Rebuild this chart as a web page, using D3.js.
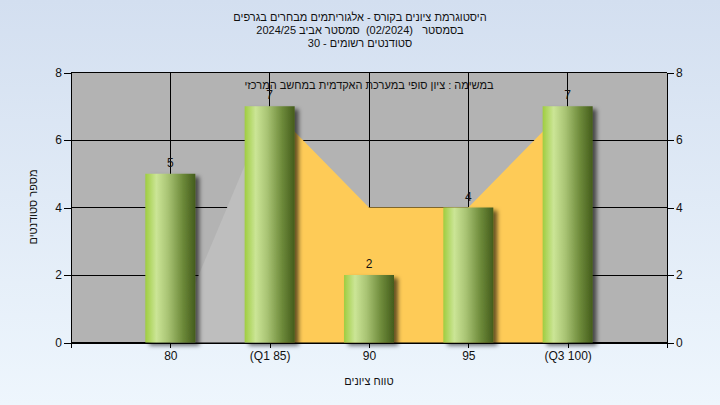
<!DOCTYPE html>
<html><head><meta charset="utf-8">
<script src="https://cdn.jsdelivr.net/npm/d3@7"></script>
<style>
html,body{margin:0;padding:0;}
svg{display:block;font-family:"Liberation Sans",Arial,sans-serif;}
.pre{white-space:pre;}
</style></head>
<body>
<svg id="chart" width="720" height="405"></svg>
<script>
const categories = ["80", "(Q1 85)", "90", "95", "(Q3 100)"];
const barValues = [5, 7, 2, 4, 7];
const areaValues = [0, 7, 4, 4, 7];
const highlightIdx = [1, 2, 3, 4];
const yTicks = [0, 2, 4, 6, 8];
const titleLines = [
  "היסטוגרמת ציונים בקורס - אלגוריתמים מבחרים בגרפים",
  "בסמסטר   (02/2024)  סמסטר אביב 2024/25",
  "סטודנטים רשומים - 30"
];
const subTitle = "במשימה : ציון סופי במערכת האקדמית במחשב המרכזי";
const yLabel = "מספר סטודנטים";
const xLabel = "טווח ציונים";

const svg = d3.select("#chart");
const W = 720, H = 405;
const m = {left: 71, right: 667, top: 72.5, bottom: 342.5};
const hebFont = "11px";

const defs = svg.append("defs");
const bg = defs.append("linearGradient").attr("id","bg").attr("x1",0).attr("y1",0).attr("x2",0).attr("y2",1);
bg.append("stop").attr("offset","0%").attr("stop-color","#d3dff0");
bg.append("stop").attr("offset","100%").attr("stop-color","#eef6fd");
const bar = defs.append("linearGradient").attr("id","bar").attr("x1",0).attr("y1",0).attr("x2",1).attr("y2",0);
[["0%","#9fcd40"],["22%","#cbe596"],["45%","#a9c474"],["75%","#6d8a3a"],["100%","#445c1c"]]
  .forEach(([o,c])=>bar.append("stop").attr("offset",o).attr("stop-color",c));
const f = defs.append("filter").attr("id","sh").attr("x","-20%").attr("y","-20%").attr("width","150%").attr("height","150%");
f.append("feDropShadow").attr("dx",4).attr("dy",3).attr("stdDeviation",2).attr("flood-color","#000").attr("flood-opacity",0.6);

svg.append("rect").attr("width",W).attr("height",H).attr("fill","url(#bg)");

const x = d3.scaleLinear().domain([-1, 5]).range([m.left, m.right]);
const y = d3.scaleLinear().domain([0, 8]).range([m.bottom, m.top]);

svg.append("rect").attr("x",m.left).attr("y",m.top).attr("width",m.right-m.left).attr("height",m.bottom-m.top).attr("fill","#b3b3b3");

const grid = svg.append("g").attr("stroke","#000").attr("stroke-width",1).attr("shape-rendering","crispEdges");
yTicks.forEach(t=>grid.append("line").attr("x1",m.left).attr("x2",m.right).attr("y1",y(t)).attr("y2",y(t)));
categories.forEach((c,i)=>grid.append("line").attr("x1",x(i)).attr("x2",x(i)).attr("y1",m.top).attr("y2",m.bottom));

const area = d3.area().x(d=>x(d.i)).y0(y(0)).y1(d=>y(d.v));
const allPts = areaValues.map((v,i)=>({i,v}));
svg.append("path").attr("d",area(allPts.slice(0,2))).attr("fill","#bebebe");
svg.append("path").attr("d",area(highlightIdx.map(i=>({i,v:areaValues[i]})))).attr("fill","#fecb57");

svg.append("line").attr("x1",m.left).attr("x2",m.right).attr("y1",m.top).attr("y2",m.top).attr("stroke","#000").attr("shape-rendering","crispEdges");

const bw = 50;
svg.append("g").selectAll("rect").data(barValues).join("rect")
  .attr("x",(d,i)=>x(i)-bw/2).attr("y",d=>y(d)).attr("width",bw).attr("height",d=>y(0)-y(d))
  .attr("fill","url(#bar)").attr("filter","url(#sh)");

const yAxisL = d3.axisLeft(y).tickValues(yTicks).tickSize(7).tickPadding(2).tickFormat(d3.format("d"));
const yAxisR = d3.axisRight(y).tickValues(yTicks).tickSize(7).tickPadding(2).tickFormat(d3.format("d"));
const xAxis = d3.axisBottom(x).tickValues([-1,0,1,2,3,4,5]).tickSize(5).tickPadding(4).tickFormat(d=>categories[d]||"");
function style(g){
  g.select(".domain").attr("stroke","#000");
  g.selectAll(".tick line").attr("stroke","#000");
  g.selectAll("text").attr("fill","#111").attr("font-size","12px").attr("font-family","Liberation Sans, Arial, sans-serif");
}
svg.append("g").attr("transform",`translate(${m.left},0)`).call(yAxisL).call(style).attr("shape-rendering","crispEdges");
svg.append("g").attr("transform",`translate(${m.right},0)`).call(yAxisR).call(style).attr("shape-rendering","crispEdges");
svg.append("g").attr("transform",`translate(0,${m.bottom})`).call(xAxis).call(style).attr("shape-rendering","crispEdges")
  .selectAll("text").attr("direction","ltr").attr("unicode-bidi","plaintext");

svg.append("g").selectAll("text").data(barValues).join("text")
  .attr("x",(d,i)=>x(i)).attr("y",d=>y(d)-7).attr("text-anchor","middle")
  .attr("font-size","12px").attr("fill","#111").text(d=>d);

svg.append("text").attr("x",369).attr("y",89).attr("text-anchor","middle").attr("direction","rtl")
  .attr("font-size",hebFont).attr("fill","#111").text(subTitle);

svg.append("g").selectAll("text").data(titleLines).join("text").attr("class","pre")
  .attr("x",360).attr("y",(d,i)=>21+i*13).attr("text-anchor","middle").attr("direction","rtl")
  .attr("font-size",hebFont).attr("fill","#111").text(d=>d);

svg.append("text").attr("transform","translate(37,207) rotate(-90)").attr("text-anchor","middle").attr("direction","rtl")
  .attr("font-size",hebFont).attr("fill","#111").text(yLabel);
svg.append("text").attr("x",369).attr("y",385).attr("text-anchor","middle").attr("direction","rtl")
  .attr("font-size",hebFont).attr("fill","#111").text(xLabel);
</script>
</body></html>
